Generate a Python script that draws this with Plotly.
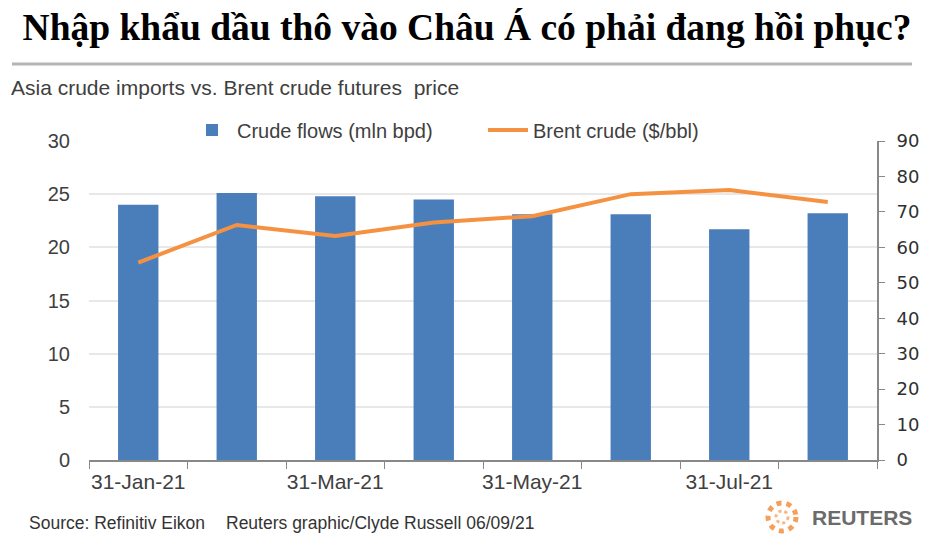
import plotly.graph_objects as go

months = ["31-Jan-21", "28-Feb-21", "31-Mar-21", "30-Apr-21",
          "31-May-21", "30-Jun-21", "31-Jul-21", "31-Aug-21"]
tick_labels = ["31-Jan-21", "", "31-Mar-21", "", "31-May-21", "", "31-Jul-21", ""]
crude_flows = [24.0, 25.1, 24.8, 24.5, 23.1, 23.1, 21.7, 23.2]
brent = [55.7, 66.3, 63.2, 67.0, 68.8, 75.0, 76.2, 72.8]

# plot area in screen pixels; the page body adds an 8px offset
OFF = 8
L, R, T, B = 89, 877, 141, 460
def px(x):
    return (x - L) / (R - L)
def py(y):
    return (B - y) / (B - T)

fig = go.Figure()
fig.add_trace(go.Bar(x=months, y=crude_flows, name="Crude flows (mln bpd)",
                     marker_color="#4a7ebb", marker_line_width=0, yaxis="y"))
fig.add_trace(go.Scatter(x=months, y=brent, name="Brent crude ($/bbl)", mode="lines",
                         line=dict(color="#f59242", width=4), yaxis="y2"))

tick_font = dict(family="Liberation Sans, Arial", size=20, color="#404040")

fig.update_layout(
    width=935, height=541,
    margin=dict(l=L - OFF, r=935 - R + OFF, t=T - OFF, b=541 - B + OFF),
    paper_bgcolor="white", plot_bgcolor="white",
    bargap=0.59,
    showlegend=True,
    legend=dict(orientation="h", x=px(187), xanchor="left", y=py(130), yanchor="middle",
                font=dict(family="Liberation Sans, Arial", size=20, color="#404040"),
                entrywidth=241, entrywidthmode="pixels", bgcolor="rgba(0,0,0,0)",
                itemwidth=40, tracegroupgap=0),
    title=dict(text="<b>Nhập khẩu dầu thô vào Châu Á có phải đang hồi phục?</b>",
               x=(467 - OFF) / 935, xanchor="center", y=1 - (27 - OFF) / 541, yanchor="middle",
               font=dict(family="Liberation Serif, Times New Roman", size=37.5, color="black")),
    xaxis=dict(type="category", range=[-0.5, 7.5], tickvals=months, ticktext=tick_labels,
               tickson="boundaries", ticks="outside", ticklen=7, tickcolor="#888888",
               showline=True, linecolor="#888888", linewidth=2, showgrid=False,
               tickfont=dict(family="Liberation Sans, Arial", size=21, color="#404040"),
               tickangle=0, automargin=False, ticklabelstandoff=2),
    yaxis=dict(range=[0, 30], dtick=5, showgrid=True, gridcolor="#e8e8e8", gridwidth=1.5,
               showline=False, zeroline=False, ticks="", tickfont=tick_font,
               ticklabelstandoff=18, automargin=False),
    yaxis2=dict(range=[0, 90], dtick=10, overlaying="y", side="right", showgrid=False,
                zeroline=False, showline=True, linecolor="#888888", linewidth=2,
                ticks="outside", ticklen=6, tickcolor="#888888",
                tickfont=dict(family="DejaVu Sans, Verdana", size=18, color="#303030"),
                ticklabelstandoff=8, automargin=False),
)

# grey rule under the headline
fig.add_shape(type="line", xref="paper", yref="paper", x0=px(12), x1=px(912),
              y0=py(64), y1=py(64), line=dict(color="#b5b5b5", width=3))

fig.add_annotation(text="Asia crude imports vs. Brent crude futures  price",
                   xref="paper", yref="paper", x=px(10), y=py(88), xanchor="left",
                   yanchor="middle", showarrow=False, borderpad=0,
                   font=dict(family="Liberation Sans, Arial", size=21, color="#404040"))
fig.add_annotation(text="Source: Refinitiv Eikon", xref="paper", yref="paper",
                   x=px(28), y=py(523), xanchor="left", yanchor="middle", showarrow=False,
                   borderpad=0,
                   font=dict(family="Liberation Sans, Arial", size=17.5, color="#333333"))
fig.add_annotation(text="Reuters graphic/Clyde Russell 06/09/21", xref="paper", yref="paper",
                   x=px(225), y=py(523), xanchor="left", yanchor="middle", showarrow=False,
                   borderpad=0,
                   font=dict(family="Liberation Sans, Arial", size=17.5, color="#333333"))

# reuters logo
fig.add_shape(type="circle", xref="paper", yref="paper",
              x0=px(768), x1=px(796), y0=py(531), y1=py(503),
              line=dict(color="#f5a05a", width=5, dash="dot"))
fig.add_shape(type="circle", xref="paper", yref="paper",
              x0=px(776), x1=px(788), y0=py(523), y1=py(511),
              line=dict(color="#f8b882", width=3, dash="dot"))
fig.add_annotation(text="<b>REUTERS</b>", xref="paper", yref="paper",
                   x=px(862), y=py(517), xanchor="center", yanchor="middle", showarrow=False,
                   font=dict(family="Liberation Sans, Arial", size=21, color="#6b6b6b"))

fig.write_html("out.html")
